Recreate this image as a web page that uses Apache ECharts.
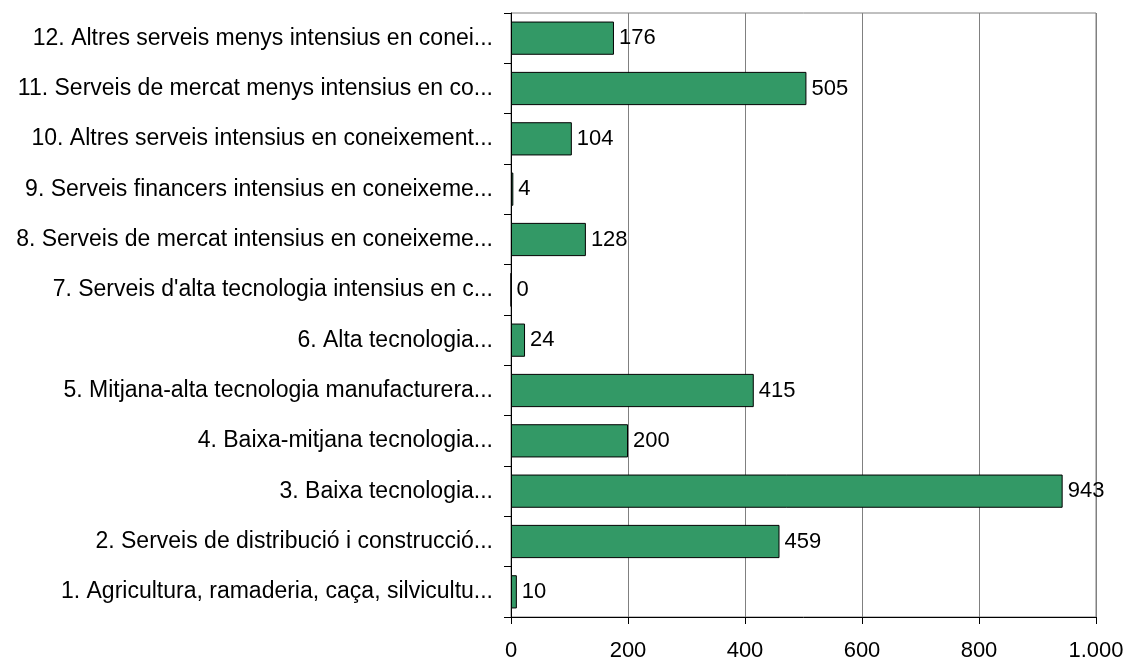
<!DOCTYPE html>
<html>
<head>
<meta charset="utf-8">
<script src="https://cdn.jsdelivr.net/npm/echarts@6/dist/echarts.min.js"></script>
<style>
  html, body { margin: 0; padding: 0; background: #fff; }
  #chart { width: 1126px; height: 660px; }
</style>
</head>
<body>
<div id="chart"></div>
<script>
// Sector labels, listed bottom to top
const categories = [
  "1. Agricultura, ramaderia, caça, silvicultu...",
  "2. Serveis de distribució i construcció...",
  "3. Baixa tecnologia...",
  "4. Baixa-mitjana tecnologia...",
  "5. Mitjana-alta tecnologia manufacturera...",
  "6. Alta tecnologia...",
  "7. Serveis d'alta tecnologia intensius en c...",
  "8. Serveis de mercat intensius en coneixeme...",
  "9. Serveis financers intensius en coneixeme...",
  "10. Altres serveis intensius en coneixement...",
  "11. Serveis de mercat menys intensius en co...",
  "12. Altres serveis menys intensius en conei..."
];
const values = [10, 459, 943, 200, 415, 24, 0, 128, 4, 104, 505, 176];
const xTicks = [0, 200, 400, 600, 800, 1000];

const fmt = v => String(v).replace(/\B(?=(\d{3})+(?!\d))/g, ".");
const font = "Liberation Sans, Arial, sans-serif";

const chart = echarts.init(document.getElementById("chart"), null, { renderer: "canvas" });
chart.setOption({
  animation: false,
  backgroundColor: "#ffffff",
  grid: {
    left: 511, right: 30, top: 13, bottom: 43,
    outerBoundsMode: "none",
    containLabel: false,
    show: true, borderColor: "#808080", borderWidth: 1
  },
  xAxis: {
    type: "value",
    min: xTicks[0],
    max: xTicks[xTicks.length - 1],
    interval: xTicks[1] - xTicks[0],
    axisLine: { show: true, lineStyle: { color: "#000", width: 1 } },
    axisTick: { show: true, length: 7, lineStyle: { color: "#000" } },
    splitLine: { show: true, lineStyle: { color: "#808080", width: 1 } },
    axisLabel: {
      color: "#000", fontSize: 22, fontFamily: font, margin: 23,
      formatter: v => fmt(v)
    }
  },
  yAxis: {
    type: "category",
    data: categories,
    boundaryGap: true,
    axisLine: { show: true, lineStyle: { color: "#000", width: 1 } },
    axisTick: { show: true, length: 7, alignWithLabel: false, lineStyle: { color: "#000" } },
    splitLine: { show: false },
    axisLabel: { color: "#000", fontSize: 23, fontFamily: font, margin: 18, interval: 0 }
  },
  series: [{
    type: "bar",
    data: values,
    barWidth: "66%",
    itemStyle: { color: "#339966", borderColor: "#000", borderWidth: 1 },
    label: {
      show: true, position: "right", distance: 5,
      color: "#000", fontSize: 22, fontFamily: font,
      formatter: p => fmt(p.value)
    }
  }]
});
</script>
</body>
</html>
